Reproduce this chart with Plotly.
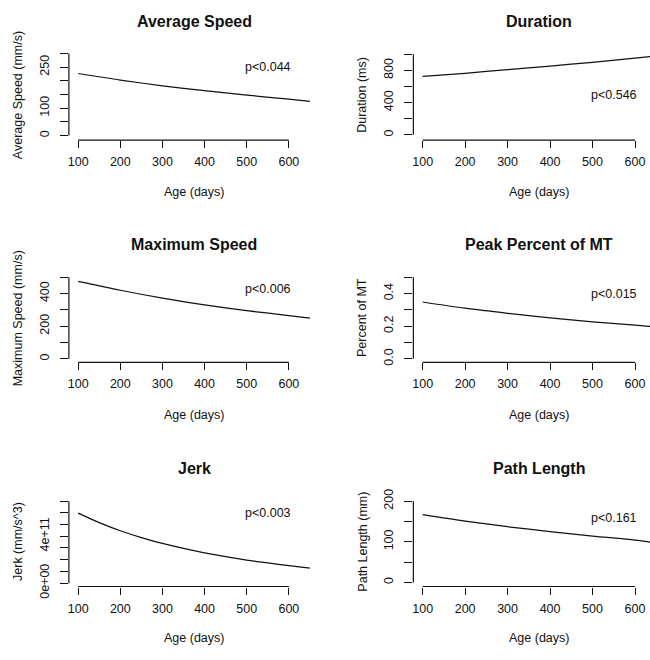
import plotly.graph_objects as go

# ---------------- data ----------------
age = [100, 200, 300, 400, 500, 600, 650]
age_jerk = [100, 150, 200, 250, 300, 350, 400, 450, 500, 550, 600, 650]

avg_speed = [227, 203, 182, 164, 148, 133, 125]
duration = [724, 764, 808, 852, 900, 950, 978]
max_speed = [474, 420, 372, 331, 295, 265, 249]
peak_pct = [0.348, 0.310, 0.279, 0.251, 0.227, 0.207, 0.195]
jerk = [5.98e11, 5.17e11, 4.47e11, 3.89e11, 3.40e11, 2.97e11, 2.59e11,
        2.26e11, 1.97e11, 1.72e11, 1.49e11, 1.28e11]
path_len = [167, 151, 137, 125, 114, 104, 97]

titles = ["Average Speed", "Duration", "Maximum Speed", "Peak Percent of MT", "Jerk", "Path Length"]
ytitles = ["Average Speed (mm/s)", "Duration (ms)", "Maximum Speed (mm/s)", "Percent of MT",
           "Jerk (mm/s^3)", "Path Length (mm)"]
pvals = ["p<0.044", "p<0.546", "p<0.006", "p<0.015", "p<0.003", "p<0.161"]
p_pos = [(550, 250), (550, 500), (550, 425), (550, 0.40), (550, 6e11), (550, 158)]

x_ticks = [100, 200, 300, 400, 500, 600]
y_ticks = [
    [0, 50, 100, 150, 200, 250, 300],
    [0, 200, 400, 600, 800, 1000],
    [0, 100, 200, 300, 400, 500],
    [0.0, 0.1, 0.2, 0.3, 0.4, 0.5],
    [0, 1e11, 2e11, 3e11, 4e11, 5e11, 6e11, 7e11],
    [0, 50, 100, 150, 200],
]
y_ticktext = [
    ["0", "", "100", "", "", "250", ""],
    ["0", "", "400", "", "800", ""],
    ["0", "", "200", "", "400", ""],
    ["0.0", "", "0.2", "", "0.4", ""],
    ["0e+00", "", "", "", "4e+11", "", "", ""],
    ["0", "", "100", "", "200"],
]
series = [(age, avg_speed), (age, duration), (age, max_speed), (age, peak_pct),
          (age_jerk, jerk), (age, path_len)]

# ---------------- layout geometry (pixels) ----------------
W, H = 650, 660
FONT = "Liberation Sans, Arial, Helvetica, sans-serif"

# x: pixel of tick 100, pixel of tick 600, domain left, domain right
xgeo = {
    "L": (77.3, 288.3, 68.0, 318.7),
    "R": (422.3, 635.0, 413.0, 650.0),
}
# y: pixel of first tick, pixel of last tick, domain top, domain bottom
ygeo = [
    (130.7, 46.0, 42.6, 135.5),
    (130.0, 46.7, 43.3, 135.5),
    (361.3, 277.0, 273.6, 365.0),
    (361.3, 277.0, 273.6, 365.0),
    (593.0, 508.3, 505.0, 596.5),
    (592.3, 508.3, 505.0, 596.5),
]
title_y = [13, 13, 243.5, 243.5, 475, 475]
xtitle_y = [188.5, 188.5, 419, 419, 649.5, 649.5]
col_center = {"L": 193.3, "R": 539.3}
ytitle_x = {"L": 16.5, "R": 361.7}
ytitle_y = [88.5, 88.5, 319, 319, 550, 550]


def lin_map(pa, va, pb, vb, p):
    return va + (p - pa) * (vb - va) / (pb - pa)


fig = go.Figure()
annotations = []
shapes = []
for i in range(6):
    col = "L" if i % 2 == 0 else "R"
    n = i + 1
    xa = "x" if n == 1 else f"x{n}"
    ya = "y" if n == 1 else f"y{n}"
    xs, ys = series[i]
    fig.add_trace(go.Scatter(x=xs, y=ys, mode="lines", xaxis=xa, yaxis=ya,
                             line=dict(color="#111111", width=1.25, shape="spline", smoothing=0.8),
                             showlegend=False, hoverinfo="skip"))
    px100, px600, dl, dr = xgeo[col]
    xr = [lin_map(px100, 100, px600, 600, dl), lin_map(px100, 100, px600, 600, dr)]
    yt = y_ticks[i]
    p0, p1, dt, db = ygeo[i]
    yr = [lin_map(p0, yt[0], p1, yt[-1], db), lin_map(p0, yt[0], p1, yt[-1], dt)]

    fig.layout[f"xaxis{'' if n == 1 else n}"] = dict(
        domain=[dl / W, dr / W], range=xr, anchor=ya,
        showgrid=False, zeroline=False, showline=False,
        ticks="outside", ticklen=7, tickwidth=1.2, tickcolor="#111111",
        tickvals=x_ticks, ticktext=[str(v) for v in x_ticks],
        tickfont=dict(family=FONT, size=12.5, color="#111111"),
        ticklabelstandoff=3,
    )
    fig.layout[f"yaxis{'' if n == 1 else n}"] = dict(
        domain=[1 - db / H, 1 - dt / H], range=yr, anchor=xa,
        showgrid=False, zeroline=False, showline=False,
        ticks="outside", ticklen=8, tickwidth=1.2, tickcolor="#111111",
        tickvals=yt, ticktext=y_ticktext[i], tickangle=-90,
        tickfont=dict(family=FONT, size=12.5, color="#111111"),
        ticklabelstandoff=6,
    )
    # R-style axis lines spanning first to last tick
    shapes.append(dict(type="line", xref=xa, yref=f"{ya} domain", x0=x_ticks[0], x1=x_ticks[-1],
                       y0=0, y1=0, line=dict(color="#111111", width=1.2)))
    shapes.append(dict(type="line", xref=f"{xa} domain", yref=ya, x0=0, x1=0,
                       y0=yt[0], y1=yt[-1], line=dict(color="#111111", width=1.2)))

    annotations.append(dict(text=f"<b>{titles[i]}</b>", xref="paper", yref="paper",
                            x=col_center[col] / W, y=1 - title_y[i] / H, showarrow=False,
                            xanchor="center", yanchor="middle",
                            font=dict(family=FONT, size=16, color="#111111")))
    annotations.append(dict(text="Age (days)", xref="paper", yref="paper",
                            x=col_center[col] / W, y=1 - xtitle_y[i] / H, showarrow=False,
                            xanchor="center", yanchor="middle",
                            font=dict(family=FONT, size=12.5, color="#111111")))
    annotations.append(dict(text=ytitles[i], xref="paper", yref="paper", textangle=-90,
                            x=ytitle_x[col] / W, y=1 - ytitle_y[i] / H, showarrow=False,
                            xanchor="center", yanchor="middle",
                            font=dict(family=FONT, size=12.5, color="#111111")))
    annotations.append(dict(text=pvals[i], xref=xa, yref=ya,
                            x=p_pos[i][0], y=p_pos[i][1], showarrow=False,
                            xanchor="center", yanchor="middle",
                            font=dict(family=FONT, size=12.5, color="#111111")))

fig.update_layout(
    width=W, height=H, margin=dict(l=0, r=0, t=0, b=0),
    paper_bgcolor="white", plot_bgcolor="white",
    annotations=annotations, shapes=shapes,
    font=dict(family=FONT),
)
fig.write_html("out.html")
